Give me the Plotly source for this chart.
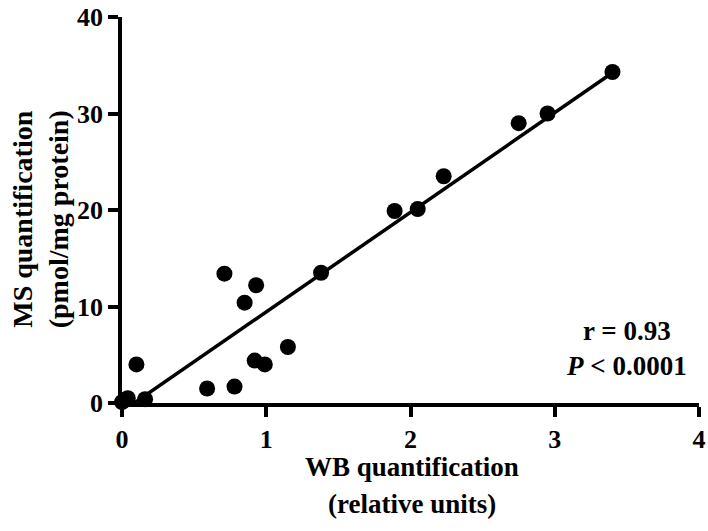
import numpy as np
import plotly.graph_objects as go

# WB quantification (relative units)
wb = [0.00, 0.02, 0.04, 0.10, 0.16, 0.59, 0.71, 0.78, 0.85, 0.92,
      0.93, 0.99, 1.15, 1.38, 1.89, 2.05, 2.23, 2.75, 2.95, 3.40]
# MS quantification (pmol/mg protein)
ms = [0.1, 0.3, 0.5, 4.0, 0.4, 1.5, 13.4, 1.7, 10.4, 4.4,
      12.2, 4.0, 5.8, 13.5, 19.9, 20.1, 23.5, 29.0, 30.0, 34.3]

x_ticks = [0, 1, 2, 3, 4]
y_ticks = [0, 10, 20, 30, 40]
stats_text = ["r = 0.93", "<i>P</i> < 0.0001"]
x_title = ["WB quantification", "(relative units)"]
y_title = ["MS quantification", "(pmol/mg protein)"]

slope, intercept = np.polyfit(wb, ms, 1)
fit_x = [min(wb), max(wb)]
fit_y = [slope * v + intercept for v in fit_x]

FONT = "Liberation Serif"

fig = go.Figure()
fig.add_trace(go.Scatter(x=fit_x, y=fit_y, mode="lines",
                         line=dict(color="black", width=3.5),
                         cliponaxis=False, showlegend=False, hoverinfo="skip"))
fig.add_trace(go.Scatter(x=wb, y=ms, mode="markers",
                         marker=dict(color="black", size=16),
                         cliponaxis=False, showlegend=False))

fig.add_annotation(x=3.495, y=5.6, xref="x", yref="y",
                   text="<b>" + "<br>".join(stats_text) + "</b>",
                   showarrow=False, align="center",
                   font=dict(family=FONT, size=27, color="black"))

# x-axis title (two lines)
for txt, py in zip(x_title, [-0.167, -0.262]):
    fig.add_annotation(x=0.5026, y=py, xref="paper", yref="paper",
                       text="<b>" + txt + "</b>", showarrow=False,
                       xanchor="center", yanchor="middle",
                       font=dict(family=FONT, size=27, color="black"))

# y-axis title (rotated, two lines)
fig.add_annotation(x=-0.141, y=0.475, xref="paper", yref="paper",
                   text="<b>" + "<br>".join(y_title) + "</b>", showarrow=False,
                   textangle=-90, xanchor="center", yanchor="middle",
                   align="center",
                   font=dict(family=FONT, size=28, color="black"))

axis_common = dict(showline=True, linecolor="black", linewidth=3.5,
                   ticks="outside", ticklen=10, tickwidth=3.5, tickcolor="black",
                   showgrid=False, zeroline=False, automargin=False,
                   ticklabeloverflow="allow",
                   tickfont=dict(family=FONT, size=26, color="black", weight="bold"))

fig.update_xaxes(range=[0, 4], tickvals=x_ticks, **axis_common)
fig.update_yaxes(range=[0, 40], tickvals=y_ticks, **axis_common)

fig.update_layout(width=708, height=531,
                  margin=dict(l=122, r=9, t=17, b=128),
                  paper_bgcolor="white", plot_bgcolor="white")

# remove the default page margin so the 708x531 figure fills the window exactly
fig.write_html("out.html",
               config={"displayModeBar": False},
               post_script="document.body.style.margin='0px';"
                           "document.body.style.overflow='hidden';")
